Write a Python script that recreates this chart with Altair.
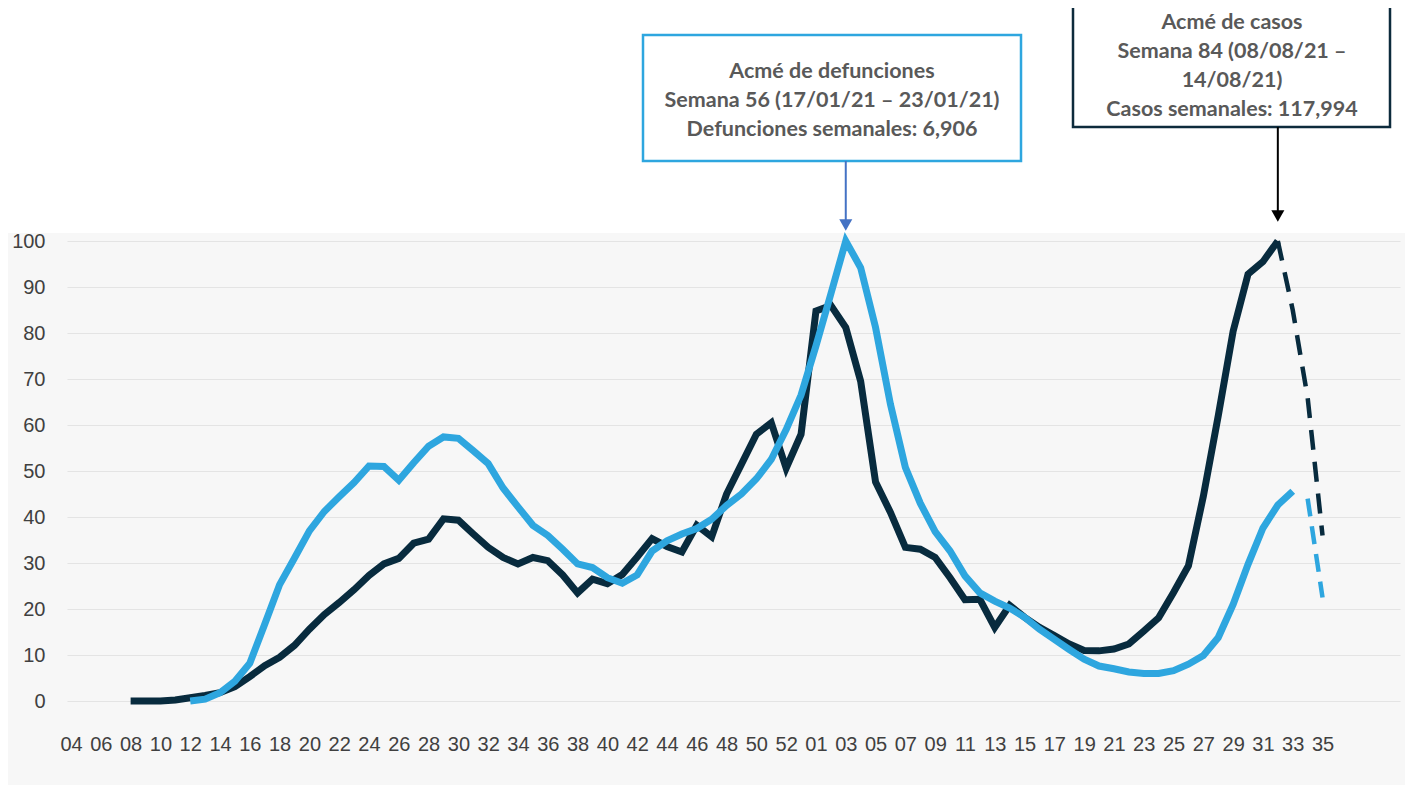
import json
import altair as alt
import pandas as pd

# ---- data (as % of each series' peak) ----
# Weekly cases, 2020 weeks 08..53
cases_2020 = [0, 0, 0, 0.2, 0.7, 1.2, 1.8, 3.1, 5.3, 7.7,
              9.5, 12.1, 15.6, 18.8, 21.4, 24.2, 27.3, 29.8, 31, 34.3,
              35.2, 39.6, 39.3, 36.3, 33.4, 31.2, 29.8, 31.2, 30.5, 27.4,
              23.5, 26.5, 25.5, 27.5, 31.3, 35.3, 33.6, 32.4, 38.2, 35.7,
              45, 51.5, 58, 60.5, 50.6, 58]
cases_2020_start = 8
# Weekly cases, 2021 weeks 01..32
cases_2021 = [84.8, 86, 81.2, 69.5, 47.6, 41, 33.4, 33, 31.2, 26.8,
              22, 22.1, 16, 20.8, 18.2, 16, 14.2, 12.4, 11, 10.9,
              11.3, 12.4, 15.2, 18.1, 23.6, 29.4, 44.5, 62, 80.4, 92.8,
              95.5, 100]
cases_2021_start = 1
# Incomplete (dashed) cases, 2021 weeks 32..35
cases_proj = [100, 85, 66, 36]
cases_proj_start = 32

# Weekly deaths, 2020 weeks 12..53
deaths_2020 = [0, 0.4, 1.8, 4.3, 8.2, 16.7, 25.3, 31.1, 37, 41.2,
               44.4, 47.5, 51.1, 51, 48, 51.8, 55.4, 57.4, 57.1, 54.4,
               51.6, 46.3, 42.2, 38.2, 36, 33, 29.8, 29, 26.8, 25.6,
               27.4, 32.6, 34.8, 36.3, 37.5, 39.5, 42.5, 45, 48.3, 52.5,
               59, 66.5]
deaths_2020_start = 12
# Weekly deaths, 2021 weeks 01..33
deaths_2021 = [77.2, 88.5, 100, 94.2, 81.2, 64.5, 50.8, 43, 36.8, 32.6,
               27.2, 23.5, 21.7, 20.2, 18.2, 15.6, 13.4, 11.2, 9.1, 7.6,
               7, 6.3, 6, 6, 6.6, 8, 9.9, 13.8, 21, 29.7,
               37.6, 42.6, 45.6]
deaths_2021_start = 1
# Incomplete (dashed) deaths, 2021 weeks 34..35
deaths_proj = [44, 22.5]
deaths_proj_start = 34

# tick labels shown on the x axis
tick_labels_2020 = ["04", "06", "08", "10", "12", "14", "16", "18", "20", "22",
                    "24", "26", "28", "30", "32", "34", "36", "38", "40", "42",
                    "44", "46", "48", "50", "52"]
tick_labels_2021 = ["01", "03", "05", "07", "09", "11", "13", "15", "17", "19",
                    "21", "23", "25", "27", "29", "31", "33", "35"]

FIRST_WEEK_2020 = 4
WEEKS_2020 = 53


def idx_of(year, week):
    if year == 2020:
        return week - FIRST_WEEK_2020
    return (WEEKS_2020 - FIRST_WEEK_2020) + week


def frame(values, year, start, name):
    return pd.DataFrame({
        "idx": [idx_of(year, start + i) for i in range(len(values))],
        "valor": values,
        "serie": name,
    })


cases_df = pd.concat([frame(cases_2020, 2020, cases_2020_start, "casos"),
                      frame(cases_2021, 2021, cases_2021_start, "casos")], ignore_index=True)
cases_p_df = frame(cases_proj, 2021, cases_proj_start, "casos")
deaths_df = pd.concat([frame(deaths_2020, 2020, deaths_2020_start, "def"),
                       frame(deaths_2021, 2021, deaths_2021_start, "def")], ignore_index=True)
deaths_p_df = frame(deaths_proj, 2021, deaths_proj_start, "def")

tick_labels = tick_labels_2020 + tick_labels_2021
tick_values = [idx_of(2020, int(l)) for l in tick_labels_2020] + \
              [idx_of(2021, int(l)) for l in tick_labels_2021]
label_expr = f"{json.dumps(tick_labels)}[indexof({json.dumps(tick_values)}, datum.value)]"

peak_deaths_idx = int(deaths_df["idx"].iloc[int(deaths_df["valor"].values.argmax())])
peak_cases_idx = int(cases_df["idx"].iloc[int(cases_df["valor"].values.argmax())])

W, H = 1333, 460
DARK = "#082b3e"
BLUE = "#2ea6df"
AXIS_FONT = "Liberation Sans"
ANNO_FONT = "Lato"

x_scale = alt.Scale(domain=[-0.27, 89.2], nice=False, zero=False)
y_scale = alt.Scale(domain=[0, 100], nice=False)

x_axis = alt.Axis(values=tick_values, labelExpr=label_expr, title=None,
                  grid=False, domain=False, ticks=False,
                  labelFontSize=20, labelFont=AXIS_FONT,
                  labelColor="#404040", labelPadding=33,
                  labelOverlap=False, labelFlush=False, labelBound=False)
y_axis = alt.Axis(values=list(range(0, 101, 10)), title=None,
                  grid=True, gridColor="#e4e4e4", gridWidth=1.2,
                  domain=False, ticks=False,
                  labelFontSize=20, labelFont=AXIS_FONT,
                  labelColor="#404040", labelPadding=22)


def xe():
    return alt.X("idx:Q", scale=x_scale, axis=x_axis)


def ye():
    return alt.Y("valor:Q", scale=y_scale, axis=y_axis)


one = alt.Data(values=[{"a": 1}])

# white band above the grey chart area (annotations sit on it) and below it
top_band = alt.Chart(one).mark_rect(color="white").encode(
    x=alt.value(-70), x2=alt.value(W + 20), y=alt.value(-250), y2=alt.value(-8))
bottom_band = alt.Chart(one).mark_rect(color="white").encode(
    x=alt.value(-70), x2=alt.value(W + 20), y=alt.value(H + 84), y2=alt.value(H + 120))

cases_line = alt.Chart(cases_df).mark_line(color=DARK, strokeWidth=7, strokeJoin="miter").encode(
    x=xe(), y=ye())
deaths_line = alt.Chart(deaths_df).mark_line(color=BLUE, strokeWidth=7, strokeJoin="miter").encode(
    x=xe(), y=ye())
cases_dash = alt.Chart(cases_p_df).mark_line(color=DARK, strokeWidth=4.5, strokeDash=[20, 12]).encode(
    x=xe(), y=ye())
deaths_dash = alt.Chart(deaths_p_df).mark_line(color=BLUE, strokeWidth=4.5, strokeDash=[18, 10]).encode(
    x=xe(), y=ye())

# Annotation: deaths peak
box1 = alt.Chart(one).mark_rect(fill="white", stroke="#2ea6df", strokeWidth=2.5).encode(
    x=alt.value(576), x2=alt.value(954), y=alt.value(-206), y2=alt.value(-80))
text1 = alt.Chart(one).mark_text(
    text=["Acmé de defunciones", "Semana 56 (17/01/21 – 23/01/21)", "Defunciones semanales: 6,906"],
    font=ANNO_FONT, fontSize=21.5, fontWeight="bold", color="#595959",
    align="center", baseline="top", lineHeight=29).encode(
    x=alt.value(765), y=alt.value(-180))
arrow1 = alt.Chart(pd.DataFrame({"idx": [peak_deaths_idx]})).mark_rule(
    color="#4472c4", strokeWidth=2).encode(
    x=xe(), y=alt.value(-80), y2=alt.value(-20))
head1 = alt.Chart(pd.DataFrame({"idx": [peak_deaths_idx]})).mark_point(
    shape="triangle-down", filled=True, color="#4472c4", opacity=1, size=170).encode(
    x=xe(), y=alt.value(-16))

# Annotation: cases peak
box2 = alt.Chart(one).mark_rect(fill="white", stroke="#0d2b3c", strokeWidth=2.5).encode(
    x=alt.value(1006), x2=alt.value(1323), y=alt.value(-240), y2=alt.value(-114))
text2 = alt.Chart(one).mark_text(
    text=["Acmé de casos", "Semana 84 (08/08/21 –", "14/08/21)", "Casos semanales: 117,994"],
    font=ANNO_FONT, fontSize=21.5, fontWeight="bold", color="#595959",
    align="center", baseline="top", lineHeight=29).encode(
    x=alt.value(1165), y=alt.value(-229))
arrow2 = alt.Chart(pd.DataFrame({"idx": [peak_cases_idx]})).mark_rule(
    color="black", strokeWidth=2).encode(
    x=xe(), y=alt.value(-114), y2=alt.value(-28))
head2 = alt.Chart(pd.DataFrame({"idx": [peak_cases_idx]})).mark_point(
    shape="triangle-down", filled=True, color="black", opacity=1, size=170).encode(
    x=xe(), y=alt.value(-25))

chart = alt.layer(
    top_band, bottom_band, cases_line, deaths_line, cases_dash, deaths_dash,
    box1, text1, arrow1, head1, box2, text2, arrow2, head2
).properties(
    width=W, height=H,
    autosize=alt.AutoSizeParams(type="none"),
    padding={"left": 59, "top": 233, "right": 5, "bottom": 90},
    background="#f7f7f7",
).configure_view(stroke=None).configure_axisX(labelOverlap=False)

chart.save("out.html", embed_options={"renderer": "svg", "actions": False})
